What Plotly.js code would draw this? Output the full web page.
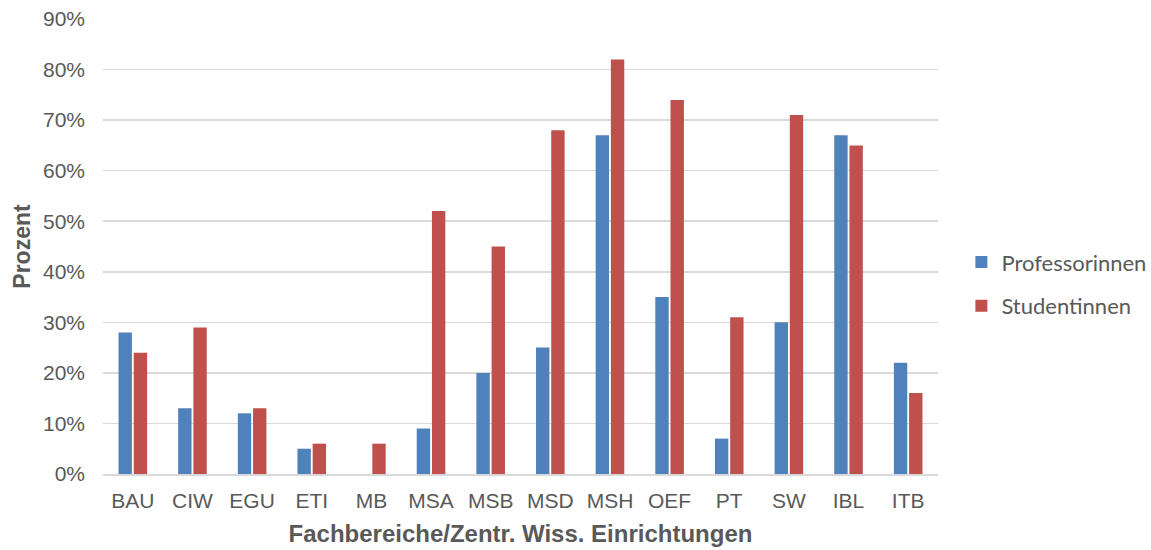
<!DOCTYPE html>
<html>
<head>
<meta charset="utf-8">
<script src="https://cdn.plot.ly/plotly-3.0.1.min.js"></script>
<style>html,body{margin:0;padding:0;background:#fff;}#chart{width:1151px;height:550px;}</style>
</head>
<body>
<div id="chart"></div>
<script>
const categories = ["BAU","CIW","EGU","ETI","MB","MSA","MSB","MSD","MSH","OEF","PT","SW","IBL","ITB"];
const professorinnen = [28,13,12,5,0,9,20,25,67,35,7,30,67,22];
const studentinnen = [24,29,13,6,6,52,45,68,82,74,31,71,65,16];
const yTickVals = [0,10,20,30,40,50,60,70,80,90];
const yTickText = ["0%","10%","20%","30%","40%","50%","60%","70%","80%","90%"];

const traces = [
  {type:"bar", name:"Professorinnen", x:categories, y:professorinnen, legendgroup:"a",
   marker:{color:"#4f81bd"}, hoverinfo:"x+y"},
  {type:"bar", name:"Studentinnen", x:categories, y:studentinnen, legendgroup:"b",
   marker:{color:"#c0504d"}, hoverinfo:"x+y"}
];

const layout = {
  width:1151, height:550,
  margin:{l:103, r:213, t:19, b:76, autoexpand:false},
  paper_bgcolor:"#ffffff", plot_bgcolor:"#ffffff",
  barmode:"group", bargap:0.49, bargroupgap:0.12,
  font:{family:"Liberation Sans, Arial, sans-serif", color:"#595959", size:21},
  xaxis:{
    type:"category",
    showgrid:false, showline:true, linecolor:"#d9d9d9", linewidth:1.5,
    ticks:"", ticklabelstandoff:7, tickfont:{size:21, color:"#595959"},
    title:{text:"Fachbereiche/Zentr. Wiss. Einrichtungen", font:{size:24, color:"#595959", family:"Liberation Sans, Arial, sans-serif", weight:"bold"}, standoff:14},
    fixedrange:true
  },
  yaxis:{
    range:[0,90], tickvals:yTickVals, ticktext:yTickText,
    showgrid:true, gridcolor:"#d9d9d9", gridwidth:1.5,
    zeroline:false, showline:false, ticks:"", ticklabelstandoff:17,
    tickfont:{size:21, color:"#595959"},
    title:{text:"Prozent", font:{size:23, color:"#595959", family:"Liberation Sans, Arial, sans-serif", weight:"bold"}, standoff:5},
    fixedrange:true
  },
  showlegend:true,
  legend:{
    x:1.028, xanchor:"left", y:0.417, yanchor:"middle",
    font:{family:"Lato, sans-serif", size:22, color:"#595959"},
    tracegroupgap:12, traceorder:"grouped",
    bgcolor:"rgba(0,0,0,0)"
  }
};

Plotly.newPlot("chart", traces, layout, {displayModeBar:false, staticPlot:true});
</script>
</body>
</html>
